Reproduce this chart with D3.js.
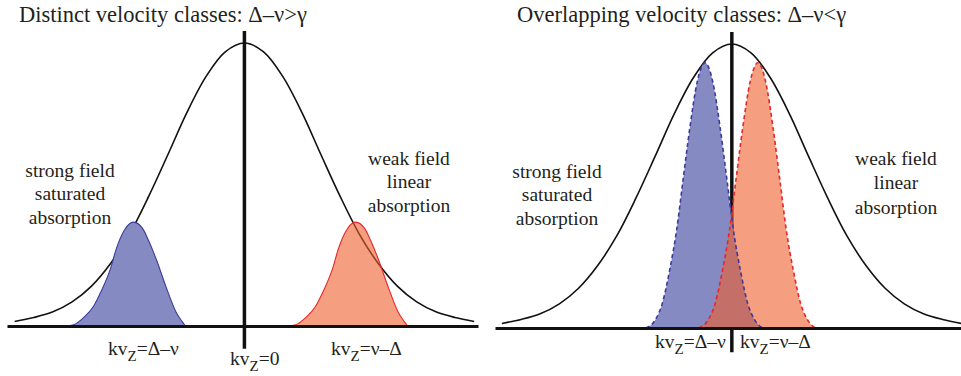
<!DOCTYPE html>
<html>
<head>
<meta charset="utf-8">
<script src="https://cdn.jsdelivr.net/npm/d3@7"></script>
<style>
  html, body { margin: 0; padding: 0; background: #fff; }
  svg { display: block; }
  text { font-family: "Liberation Serif", "Times New Roman", serif; fill: #231f20; }
</style>
</head>
<body>
<svg id="chart" width="961" height="376"></svg>
<script>
// ---------------- DATA ----------------
// Doppler (velocity distribution) profile, kv_z in Doppler widths, relative height
const dopplerU = [-3, -2.75, -2.5, -2.25, -2, -1.75, -1.5, -1.25, -1, -0.75, -0.5, -0.25, 0,
                  0.25, 0.5, 0.75, 1, 1.25, 1.5, 1.75, 2, 2.25, 2.5, 2.75, 3];
const dopplerH = [0.016, 0.03, 0.05, 0.085, 0.14, 0.22, 0.325, 0.458, 0.605, 0.755, 0.882, 0.969, 1,
                  0.969, 0.882, 0.755, 0.605, 0.458, 0.325, 0.22, 0.14, 0.085, 0.05, 0.03, 0.016];

// Velocity-class (hole) profile, left panel: offset from class centre, relative height
const holeOffsetsLeft = [-0.89, -0.78, -0.65, -0.52, -0.43, -0.30, -0.22, -0.12, 0,
                         0.12, 0.20, 0.30, 0.43, 0.56, 0.64, 0.68];
const holeHeightsLeft = [0, 0.012, 0.08, 0.19, 0.32, 0.55, 0.75, 0.92, 1,
                         0.94, 0.82, 0.64, 0.37, 0.13, 0.04, 0];

// Velocity-class profile, right panel
const holeOffsetsRight = [-0.77, -0.65, -0.56, -0.46, -0.37, -0.29, -0.20, -0.10, 0,
                          0.10, 0.20, 0.29, 0.37, 0.46, 0.56, 0.65, 0.75];
const holeHeightsRight = [0, 0.03, 0.09, 0.22, 0.37, 0.55, 0.75, 0.93, 1,
                          0.93, 0.75, 0.55, 0.37, 0.22, 0.09, 0.03, 0];

// Class centres (kv_z) and peak heights: [strong (blue), weak (red)]
const classCentersLeft = [-1.45, 1.45];
const classPeakLeft = 0.367;
const classCentersRight = [-0.35, 0.34];
const classPeakRight = 0.934;

const titles = ["Distinct velocity classes: \u0394\u2013\u03bd>\u03b3",
                "Overlapping velocity classes: \u0394\u2013\u03bd<\u03b3"];
const strongLabel = ["strong field", "saturated", "absorption"];
const weakLabel = ["weak field", "linear", "absorption"];
const axisLabelsLeft = ["=\u0394\u2013\u03bd", "=0", "=\u03bd\u2013\u0394"];
const axisLabelsRight = ["=\u0394\u2013\u03bd", "=\u03bd\u2013\u0394"];

// ---------------- DRAW ----------------
const svg = d3.select("#chart");

const blueFill = "#868ac3", blueStroke = "#3a3a9c";
const redFill = "rgb(238,93,43)", redFillOpacity = 0.6, redStroke = "#e5262b";

function panel(cfg) {
  const g = svg.append("g");
  const x = d3.scaleLinear().domain(cfg.xDomain).range(cfg.xRange);
  const y = d3.scaleLinear().domain([0, 1]).range([cfg.base, cfg.base - cfg.height]);

  // vertical kv_z = 0 line (under the fills)
  g.append("line")
    .attr("x1", x(0)).attr("x2", x(0))
    .attr("y1", y(cfg.vTop)).attr("y2", y(cfg.vBottom))
    .attr("stroke", "#111").attr("stroke-width", 3.5);

  // Doppler profile
  const dop = dopplerU.map((u, i) => [u, dopplerH[i]]);
  g.append("path").datum(dop)
    .attr("fill", "none").attr("stroke", "#111").attr("stroke-width", 1.6)
    .attr("d", d3.line().x(d => x(d[0])).y(d => y(d[1])).curve(d3.curveCatmullRom));

  // velocity classes
  const area = d3.area().x(d => x(d[0])).y0(y(0)).y1(d => y(d[1])).curve(d3.curveMonotoneX);
  const line = d3.line().x(d => x(d[0])).y(d => y(d[1])).curve(d3.curveMonotoneX);
  cfg.centers.forEach((c, k) => {
    const pts = cfg.offs.map((o, i) => [c + o, cfg.peak * cfg.hs[i]]);
    const blue = k === 0;
    g.append("path").datum(pts)
      .attr("fill", blue ? blueFill : redFill)
      .attr("fill-opacity", blue ? 1 : redFillOpacity)
      .attr("d", area);
    cfg.strokes.push({pts, blue});
  });
  cfg.strokes.forEach(s => {
    g.append("path").datum(s.pts)
      .attr("fill", "none")
      .attr("stroke", s.blue ? blueStroke : redStroke)
      .attr("stroke-width", cfg.dashed ? 1.6 : 1.1)
      .attr("stroke-dasharray", cfg.dashed ? "4,3" : null)
      .attr("d", line);
  });

  // baseline axis
  const ax = g.append("g").attr("transform", `translate(0,${cfg.base})`)
    .call(d3.axisBottom(x).ticks(0).tickSizeOuter(0));
  ax.select(".domain").attr("stroke", "#111").attr("stroke-width", 3);

  // title
  g.append("text").attr("x", cfg.titleX).attr("y", 22)
    .style("font-size", "22.5px").text(cfg.title);

  // side labels
  function multi(lines, cx, ys) {
    lines.forEach((t, i) => g.append("text").attr("x", cx).attr("y", ys[i])
      .attr("text-anchor", "middle").style("font-size", "19.5px").text(t));
  }
  multi(strongLabel, cfg.strongX, cfg.strongY);
  multi(weakLabel, cfg.weakX, cfg.weakY);

  // axis labels kv_Z = ...
  cfg.axisLabels.forEach((lab, i) => {
    const t = g.append("text").attr("x", cfg.axisLabelX[i]).attr("y", cfg.axisLabelY[i])
      .style("font-size", "19.5px");
    t.append("tspan").text("kv");
    t.append("tspan").attr("dy", 6).style("font-size", "15px").text("Z");
    t.append("tspan").attr("dy", -6).text(lab);
  });
}

panel({
  xDomain: [-3.1, 3.05], xRange: [7, 478], base: 326, height: 283,
  vTop: 1.042, vBottom: -0.08,
  centers: classCentersLeft, peak: classPeakLeft,
  offs: holeOffsetsLeft, hs: holeHeightsLeft, dashed: false, strokes: [],
  title: titles[0], titleX: 19,
  strongX: 70, strongY: [177, 200, 224],
  weakX: 409, weakY: [165, 188, 212],
  axisLabels: axisLabelsLeft, axisLabelX: [108, 230, 331], axisLabelY: [355, 365, 355]
});

panel({
  xDomain: [-3.09, 2.99], xRange: [495, 961], base: 328, height: 284,
  vTop: 1.042, vBottom: -0.085,
  centers: classCentersRight, peak: classPeakRight,
  offs: holeOffsetsRight, hs: holeHeightsRight, dashed: true, strokes: [],
  title: titles[1], titleX: 517,
  strongX: 557, strongY: [178, 201, 225],
  weakX: 896, weakY: [165, 189, 214],
  axisLabels: axisLabelsRight, axisLabelX: [655, 740], axisLabelY: [348, 348]
});
</script>
</body>
</html>
